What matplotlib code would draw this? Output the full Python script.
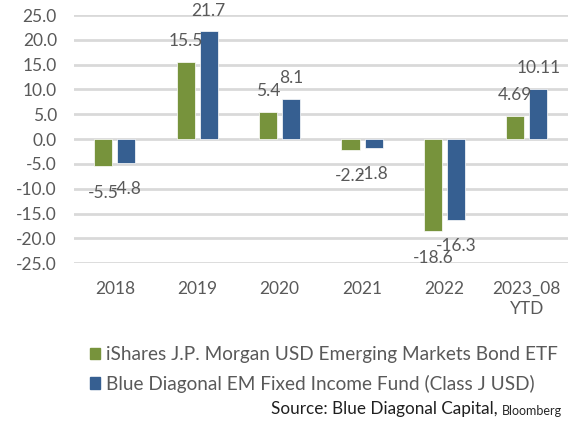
import numpy as np
import matplotlib.pyplot as plt
from matplotlib.patches import Patch

categories = ['2018', '2019', '2020', '2021', '2022', '2023_08\nYTD']
etf_returns = [-5.5, 15.5, 5.4, -2.2, -18.6, 4.69]
fund_returns = [-4.8, 21.7, 8.1, -1.8, -16.3, 10.11]
etf_labels = ['-5.5', '15.5', '5.4', '-2.2', '-18.6', '4.69']
fund_labels = ['-4.8', '21.7', '8.1', '-1.8', '-16.3', '10.11']
series_names = ['iShares J.P. Morgan USD Emerging Markets Bond ETF',
                'Blue Diagonal EM Fixed Income Fund (Class J USD)']
yticks = np.arange(-25, 26, 5)

green = '#77933C'
blue = '#365F91'
text_color = '#595959'

plt.rcParams['font.family'] = ['Lato', 'DejaVu Sans']

fig = plt.figure(figsize=(5.75, 4.3), dpi=100)
ax = fig.add_axes([0.128, 0.388, 0.86, 0.577])

x = np.arange(len(categories))
w = 0.22
off = 0.14
bars_g = ax.bar(x - off, etf_returns, w, color=green, edgecolor='white', linewidth=0.5, zorder=3)
bars_b = ax.bar(x + off, fund_returns, w, color=blue, edgecolor='white', linewidth=0.5, zorder=3)

for bars, labels in [(bars_g, etf_labels), (bars_b, fund_labels)]:
    for b, lab in zip(bars, labels):
        h = b.get_height()
        cx = b.get_x() + b.get_width() / 2
        dy = 15 if h >= 0 else -19
        ax.annotate(lab, (cx, h), xytext=(0, dy), textcoords='offset points',
                    ha='center', va='center', fontsize=12.5, color=text_color, zorder=4)

ax.set_xlim(-0.5, len(categories) - 0.5)
ax.set_ylim(-25, 25)
ax.set_yticks(yticks)
ax.set_yticklabels([f'{v:.1f}' for v in yticks])
ax.set_xticks(x)
ax.set_xticklabels(categories, linespacing=1.3)
ax.tick_params(axis='both', length=0, labelsize=12.5, colors=text_color)
ax.tick_params(axis='x', pad=13)
ax.tick_params(axis='y', pad=12)
ax.grid(axis='y', color='#D9D9D9', linewidth=2, zorder=0)
for s in ax.spines.values():
    s.set_visible(False)

handles = [Patch(color=green), Patch(color=blue)]
leg = fig.legend(handles, series_names, loc='upper left', bbox_to_anchor=(0.14, 0.217),
                 frameon=False, fontsize=13.7, labelcolor=text_color, handlelength=0.55,
                 handleheight=0.55, handletextpad=0.3, labelspacing=0.6, borderpad=0)

bloom = fig.text(0.978, 0.036, 'Bloomberg', ha='right', va='baseline',
                 fontsize=9, color='#262626')
ax.annotate('Source: Blue Diagonal Capital, ', xy=(0, 0), xycoords=bloom,
            ha='right', va='bottom', fontsize=12.3, color='#1f1f1f',
            annotation_clip=False)

fig.savefig('out.png', dpi=100)
